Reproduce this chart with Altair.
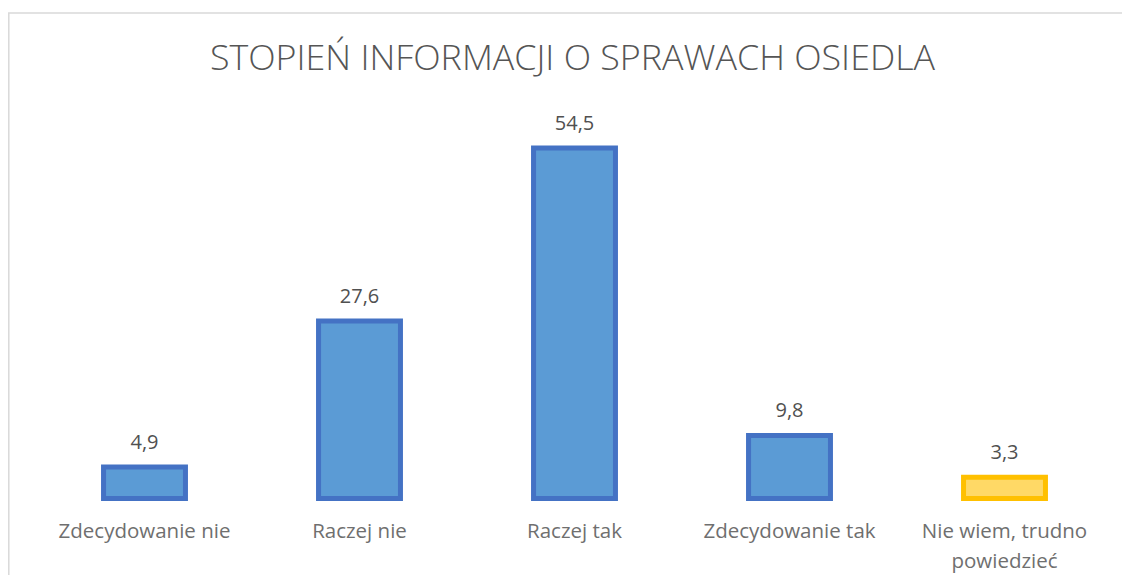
import altair as alt
import pandas as pd

categories = ["Zdecydowanie nie", "Raczej nie", "Raczej tak", "Zdecydowanie tak", "Nie wiem, trudno powiedzieć"]
values = [4.9, 27.6, 54.5, 9.8, 3.3]
groups = ["odp", "odp", "odp", "odp", "brak"]

fill_colors = ["#5B9BD5", "#FFD966"]
stroke_colors = ["#4472C4", "#FFC000"]
group_domain = ["odp", "brak"]

title_text = "STOPIEŃ INFORMACJI O SPRAWACH OSIEDLA"

df = pd.DataFrame({"kategoria": categories, "wartosc": values, "grupa": groups})

FONT = "Open Sans"

x_enc = alt.X(
    "kategoria:N",
    sort=categories,
    scale=alt.Scale(paddingInner=0.619, paddingOuter=0.3095),
    axis=alt.Axis(
        title=None,
        domain=False,
        ticks=False,
        tickSize=0,
        grid=False,
        labelAngle=0,
        labelFont=FONT,
        labelFontSize=20.5,
        labelColor="#6F6F6F",
        labelBaseline="alphabetic",
        labelPadding=38.8,
        labelLineHeight=30,
        labelExpr="datum.label == 'Nie wiem, trudno powiedzieć' ? ['Nie wiem, trudno', 'powiedzieć'] : datum.label",
    ),
)
y_enc = alt.Y("wartosc:Q", scale=alt.Scale(domain=[0, 60], nice=False), axis=None)

bars = alt.Chart(df).mark_bar(strokeWidth=5).encode(
    x=x_enc,
    y=y_enc,
    fill=alt.Fill("grupa:N", scale=alt.Scale(domain=group_domain, range=fill_colors), legend=None),
    stroke=alt.Stroke("grupa:N", scale=alt.Scale(domain=group_domain, range=stroke_colors), legend=None),
)

labels = alt.Chart(df).transform_calculate(
    etykieta="replace(format(datum.wartosc, '.1f'), '.', ',')"
).mark_text(
    font=FONT, fontSize=20, color="#505050", baseline="alphabetic", align="center", dy=-18
).encode(
    x=alt.X("kategoria:N", sort=categories),
    y="wartosc:Q",
    text="etykieta:N",
)

meta = pd.DataFrame({"tytul": [title_text]})

border = alt.Chart(meta).mark_rect(
    filled=False, stroke="#D9D9D9", strokeWidth=1.5
).encode(
    x=alt.value(-28.2), x2=alt.value(1200), y=alt.value(-99.5), y2=alt.value(700)
)

title = alt.Chart(meta).mark_text(
    font=FONT, fontSize=35.8, fontWeight=300, color="#555555", baseline="alphabetic", align="center"
).encode(
    x=alt.value(535.5), y=alt.value(-42.5), text="tytul:N"
)

chart = alt.layer(border, title, bars, labels).properties(
    width=1075,
    height=386,
    autosize=alt.AutoSizeParams(type="none"),
    padding={"left": 29, "top": 104.5, "right": 10, "bottom": 76.5},
    background="white",
).configure_view(stroke=None, strokeWidth=0)

chart.save("out.html", embed_options={"renderer": "svg", "actions": False})
